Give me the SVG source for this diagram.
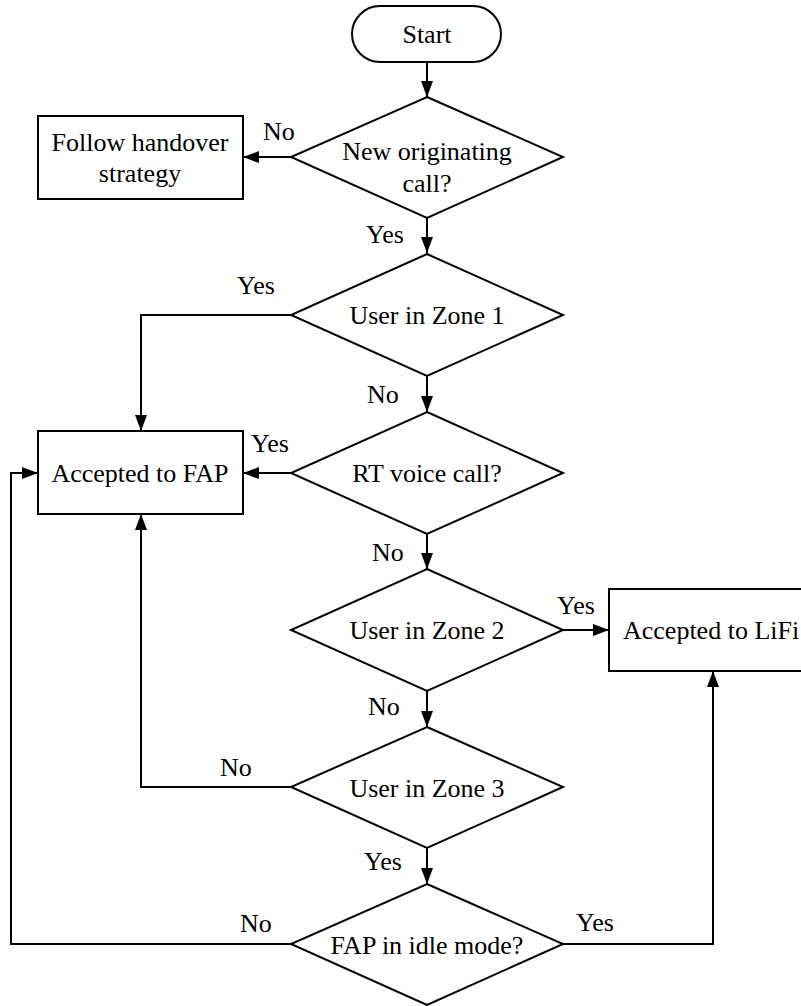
<svg xmlns="http://www.w3.org/2000/svg" width="801" height="1006" viewBox="0 0 801 1006">
<style>
.s{fill:#fff;stroke:#000;stroke-width:2}
.c{fill:none;stroke:#000;stroke-width:2;marker-end:url(#ah)}
text{font-family:'Liberation Serif','Times New Roman',Tinos,'DejaVu Serif',serif;font-size:26px;fill:#000}
.m{text-anchor:middle}
</style>
<defs>
<marker id="ah" markerUnits="userSpaceOnUse" markerWidth="16" markerHeight="12" refX="16" refY="6" orient="auto">
<path d="M0,0 L16,6 L0,12 z" fill="#000"/>
</marker>
</defs>
<rect width="801" height="1006" fill="#fff"/>
<g id="connectors" font-family="Liberation Serif, serif">
<path class="c" d="M427,62 V97"/>
<path class="c" d="M291,157 H243"/>
<path class="c" d="M427,218 V253"/>
<path class="c" d="M291,315 H141 V431"/>
<path class="c" d="M427,376 V412"/>
<path class="c" d="M291,473 H243"/>
<path class="c" d="M427,534 V569"/>
<path class="c" d="M563,630 H609"/>
<path class="c" d="M427,691 V727"/>
<path class="c" d="M291,787 H141 V514"/>
<path class="c" d="M427,848 V884"/>
<path class="c" d="M291,944 H11 V473 H38"/>
<path class="c" d="M563,944 H713 V671"/>
<text x="263" y="140">No</text>
<text x="366" y="243">Yes</text>
<text x="237" y="294">Yes</text>
<text x="367" y="403">No</text>
<text x="251" y="452">Yes</text>
<text x="372" y="561">No</text>
<text x="557" y="614">Yes</text>
<text x="368" y="715">No</text>
<text x="220" y="776">No</text>
<text x="364" y="870">Yes</text>
<text x="240" y="932">No</text>
<text x="576" y="931">Yes</text>
</g>
<g id="start">
<rect class="s" x="352" y="6" width="149" height="56" rx="28" ry="28"/>
<text class="m" x="427" y="43">Start</text>
</g>
<g id="d1">
<polygon class="s" points="427,97 563,157 427,218 291,157"/>
<text class="m" x="427" y="160">New originating</text>
<text class="m" x="427" y="192">call?</text>
</g>
<g id="follow">
<rect class="s" x="38" y="116" width="205" height="83"/>
<text class="m" x="140" y="151">Follow handover</text>
<text class="m" x="140" y="182">strategy</text>
</g>
<g id="d2">
<polygon class="s" points="427,254 563,315 427,376 291,315"/>
<text class="m" x="427" y="324">User in Zone 1</text>
</g>
<g id="fap">
<rect class="s" x="38" y="431" width="205" height="83"/>
<text class="m" x="140" y="482">Accepted to FAP</text>
</g>
<g id="d3">
<polygon class="s" points="427,412 563,473 427,534 291,473"/>
<text class="m" x="427" y="482">RT voice call?</text>
</g>
<g id="d4">
<polygon class="s" points="427,569 563,630 427,691 291,630"/>
<text class="m" x="427" y="639">User in Zone 2</text>
</g>
<g id="lifi">
<rect class="s" x="609" y="589" width="210" height="82"/>
<text x="623" y="639">Accepted to LiFi</text>
</g>
<g id="d5">
<polygon class="s" points="427,727 563,787 427,848 291,787"/>
<text class="m" x="427" y="797">User in Zone 3</text>
</g>
<g id="d6">
<polygon class="s" points="427,884 563,944 427,1005 291,944"/>
<text class="m" x="427" y="954">FAP in idle mode?</text>
</g>
</svg>
